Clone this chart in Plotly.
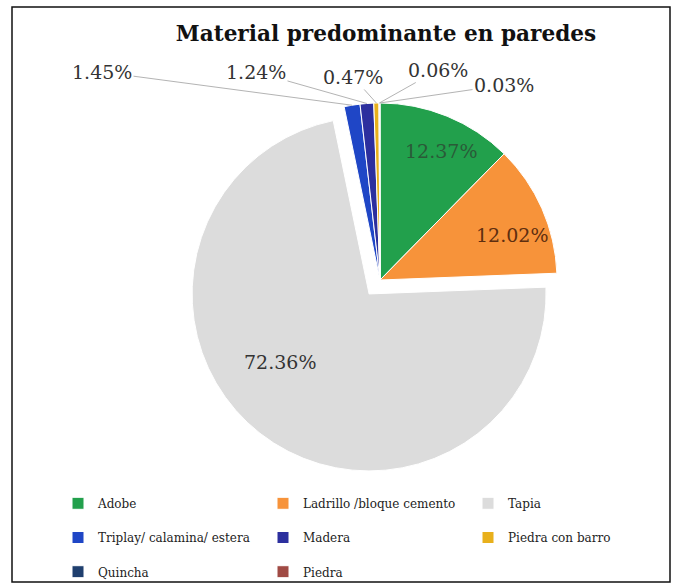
"""Pie de material predominante en paredes."""

import numpy as np
import plotly.graph_objects as go

W, H = 678, 587

materiales = [
    "Adobe",
    "Ladrillo /bloque cemento",
    "Tapia",
    "Triplay/ calamina/ estera",
    "Madera",
    "Piedra con barro",
    "Quincha",
    "Piedra",
]
porcentajes = [12.37, 12.02, 72.36, 1.45, 1.24, 0.47, 0.06, 0.03]
colores = ["#22a04c", "#f7933a", "#dcdcdc", "#1f46c6", "#2c2f9e",
           "#e8b01c", "#1f3f6e", "#a04a44"]
separacion = [0, 0, 0.1, 0, 0, 0, 0, 0]

# margenes y conversion px -> paper
ML, MR, MT, MB = 0, 0, 0, 100
gw, gh = W - ML - MR, H - MT - MB


def px_x(px):
    return (px - ML) / gw


def px_y(py):
    return 1 - (py - MT) / gh


# centro del pie (px) y radio
cx, cy, r = 380, 280, 177
half = r * (1 + max(separacion))

# etiquetas dentro de las porciones grandes: posicion (px) y color
etiquetas_int = {0: (441, 151, "#2a5a38"), 1: (512, 235, "#5e2e10"), 2: (280, 362, "#333333")}
# etiquetas externas de las porciones pequenas, con linea guia
etiquetas_ext = {3: (102, 72), 4: (256, 72), 5: (353, 77), 6: (438, 70), 7: (504, 85)}

# la linea vacia extra da el alto de fila de la leyenda original (salvo la ultima fila)
etiquetas_ley = [m + "<br> " if i < 6 else m for i, m in enumerate(materiales)]

fig = go.Figure()
fig.add_trace(go.Pie(
    labels=etiquetas_ley, values=porcentajes,
    sort=False, direction="clockwise", rotation=0,
    pull=separacion,
    marker=dict(colors=colores, line=dict(color="#ffffff", width=1)),
    textinfo="none",
    domain=dict(x=[px_x(cx - half), px_x(cx + half)],
                y=[px_y(cy + half), px_y(cy - half)]),
    hoverinfo="percent",
))

fuente = dict(family="DejaVu Serif", size=19, color="#333333")
for i, (tx, ty, col) in etiquetas_int.items():
    fig.add_annotation(
        x=px_x(tx), y=px_y(ty), xref="paper", yref="paper", showarrow=False,
        xanchor="center", yanchor="middle",
        text=f"{porcentajes[i]:.2f}%", font=dict(fuente, color=col),
    )

total = sum(porcentajes)
acum = np.cumsum([0] + porcentajes)
for i, (tx, ty) in etiquetas_ext.items():
    theta = np.deg2rad((acum[i] + porcentajes[i] / 2) / total * 360)
    hx = cx + r * np.sin(theta)
    hy = cy - r * np.cos(theta)
    fig.add_annotation(
        x=px_x(hx), y=px_y(hy), xref="paper", yref="paper",
        ax=tx - hx, ay=ty - hy,
        text=f"{porcentajes[i]:.2f}%", showarrow=True,
        arrowhead=0, arrowwidth=0.8, arrowcolor="#a0a0a0", standoff=0,
        font=fuente,
    )

fig.add_shape(type="rect", xref="paper", yref="paper",
              x0=px_x(12), x1=px_x(670), y0=px_y(582), y1=px_y(7),
              line=dict(color="#111111", width=1.5))

fig.update_layout(
    width=W, height=H,
    title=dict(text="<b>Material predominante en paredes</b>",
               x=386 / W, y=1 - 33 / H, xanchor="center", yanchor="middle",
               font=dict(family="DejaVu Serif", size=21.6, color="#111111")),
    legend=dict(orientation="h", x=px_x(58), y=px_y(489),
                xanchor="left", yanchor="top", entrywidth=160, valign="top",
                bgcolor="rgba(0,0,0,0)",
                font=dict(family="DejaVu Serif", size=12, color="#222222")),
    margin=dict(l=ML, r=MR, t=MT, b=MB),
    paper_bgcolor="white",
)

fig.write_html("out.html", config={"displayModeBar": False},
               post_script="document.body.style.margin='0';")
